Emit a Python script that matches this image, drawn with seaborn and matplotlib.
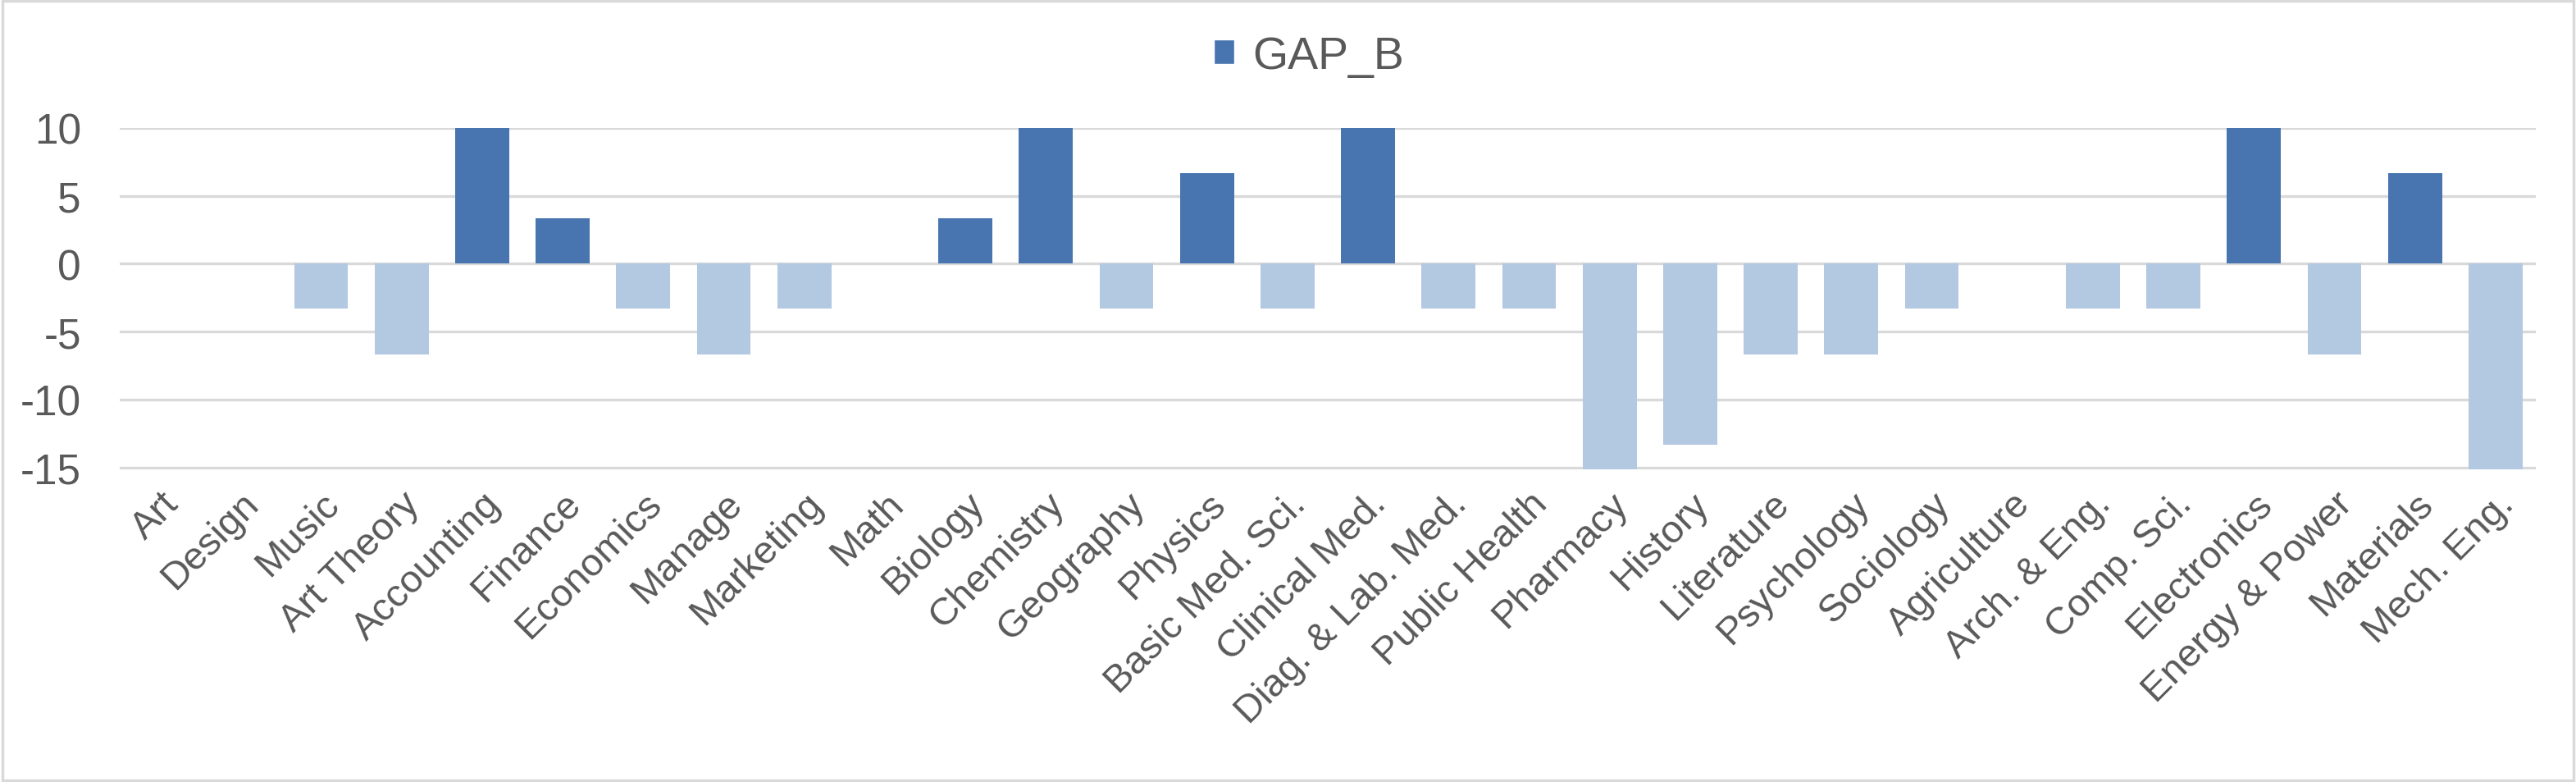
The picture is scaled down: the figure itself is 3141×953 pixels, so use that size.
import pandas as pd
import seaborn as sns
import matplotlib.pyplot as plt
from matplotlib.patches import Patch, Rectangle

# Data
subjects = ['Art', 'Design', 'Music', 'Art Theory', 'Accounting', 'Finance',
            'Economics', 'Manage', 'Marketing', 'Math', 'Biology', 'Chemistry',
            'Geography', 'Physics', 'Basic Med. Sci.', 'Clinical Med.',
            'Diag. & Lab. Med.', 'Public Health', 'Pharmacy', 'History',
            'Literature', 'Psychology', 'Sociology', 'Agriculture',
            'Arch. & Eng.', 'Comp. Sci.', 'Electronics', 'Energy & Power',
            'Materials', 'Mech. Eng.']
gap_b = [0, 0, -3.33, -6.67, 10, 3.33,
         -3.33, -6.67, -3.33, 0, 3.33, 10,
         -3.33, 6.67, -3.33, 10,
         -3.33, -3.33, -15.2, -13.33,
         -6.67, -6.67, -3.33, 0,
         -3.33, -3.33, 10, -6.67,
         6.67, -15.2]
y_ticks = [-15, -10, -5, 0, 5, 10]

dark = '#4875B0'
light = '#B3C8E1'
text_col = '#595959'
grid_col = '#D9D9D9'

data = pd.DataFrame({'subject': subjects, 'GAP_B': gap_b})
data['sign'] = ['pos' if v >= 0 else 'neg' for v in data['GAP_B']]

sns.set_style('white')
plt.rcParams['font.family'] = ['Liberation Sans', 'DejaVu Sans']
plt.rcParams['axes.unicode_minus'] = False

fig = plt.figure(figsize=(31.41, 9.54), dpi=100)
ax = fig.add_axes([146 / 3141, 1 - 573 / 954, (3092 - 146) / 3141, (573 - 157) / 954])

sns.barplot(data=data, x='subject', y='GAP_B', hue='sign',
            palette={'pos': dark, 'neg': light}, dodge=False, width=0.67,
            saturation=1, legend=False, linewidth=0, ax=ax, zorder=3)

ax.set_ylim(-15.15, 10)
ax.set_yticks(y_ticks)
ax.yaxis.grid(True, color=grid_col, linewidth=2.4, zorder=0)
ax.set_axisbelow(True)
for s in ax.spines.values():
    s.set_visible(False)
ax.set_xlabel('')
ax.set_ylabel('')
ax.tick_params(axis='y', length=0, labelsize=37, colors=text_col, pad=34)
ax.tick_params(axis='x', length=0, labelsize=34, colors=text_col, pad=14)
plt.setp(ax.get_xticklabels(), rotation=45, ha='right', rotation_mode='anchor')

fig.legend(handles=[Patch(facecolor=dark, label='GAP_B')], loc='center',
           bbox_to_anchor=(0.508, 1 - 70 / 954), frameon=False, fontsize=40,
           labelcolor=text_col, handlelength=0.45, handleheight=0.45, handletextpad=0.4)

fig.patches.append(Rectangle((0.001, 0.002), 0.998, 0.996, transform=fig.transFigure,
                             fill=False, edgecolor=grid_col, linewidth=2.5))

plt.savefig('out.png', dpi=100)
